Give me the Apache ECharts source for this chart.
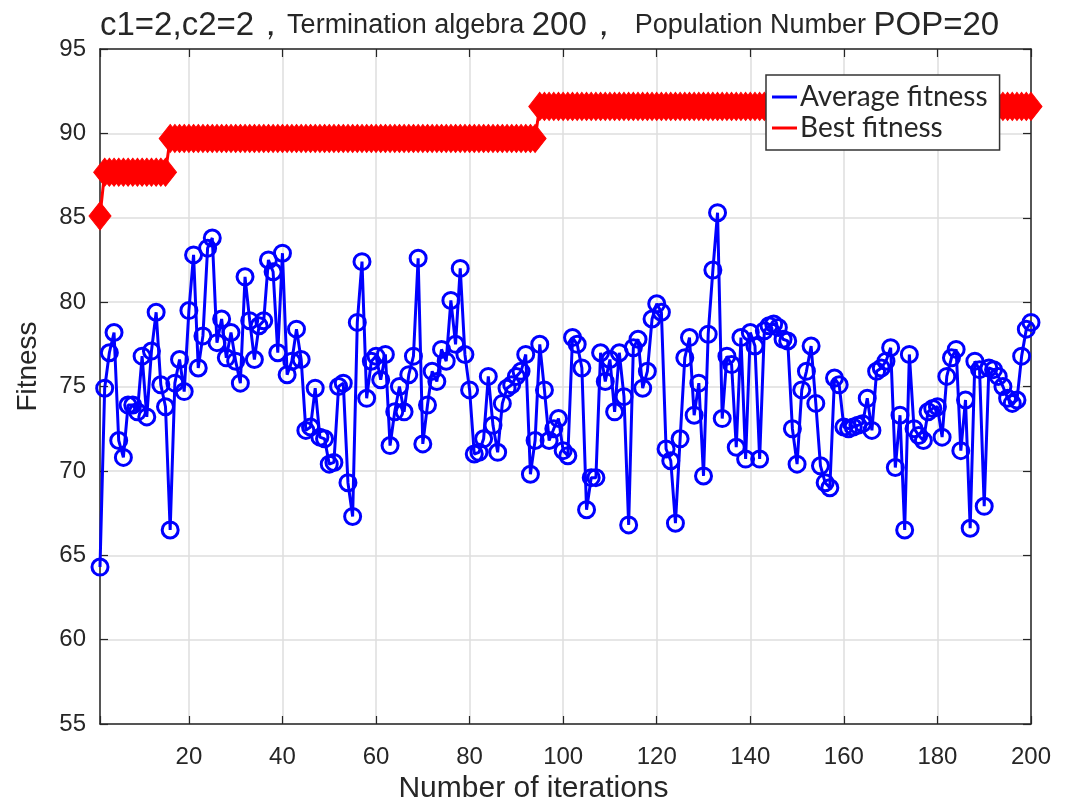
<!DOCTYPE html>
<html>
<head>
<meta charset="utf-8">
<script src="https://cdn.jsdelivr.net/npm/echarts@6/dist/echarts.min.js"></script>
<style>
  html, body { margin: 0; padding: 0; background: #ffffff; }
  #chart { width: 1071px; height: 803px; }
</style>
</head>
<body>
<div id="chart"></div>
<script>
// Average fitness of the swarm at each iteration (1..200)
const avgFitness = [
  64.3, 74.9, 77.0, 78.2, 71.8, 70.8, 73.9, 73.9, 73.5, 76.8,
  73.2, 77.1, 79.4, 75.1, 73.8, 66.5, 75.2, 76.6, 74.7, 79.5,
  82.8, 76.1, 78.0, 83.2, 83.8, 77.6, 79.0, 76.7, 78.2, 76.5,
  75.2, 81.5, 78.9, 76.6, 78.6, 78.9, 82.5, 81.8, 77.0, 82.9,
  75.7, 76.5, 78.4, 76.6, 72.4, 72.6, 74.9, 72.0, 71.9, 70.4,
  70.5, 75.0, 75.2, 69.3, 67.3, 78.8, 82.4, 74.3, 76.5, 76.8,
  75.4, 76.9, 71.5, 73.5, 75.0, 73.5, 75.7, 76.8, 82.6, 71.6,
  73.9, 75.9, 75.3, 77.2, 76.5, 80.1, 77.5, 82.0, 76.9, 74.8,
  71.0, 71.1, 71.9, 75.6, 72.7, 71.1, 74.0, 74.9, 75.1, 75.6,
  75.9, 76.9, 69.8, 71.8, 77.5, 74.8, 71.8, 72.5, 73.1, 71.2,
  70.9, 77.9, 77.5, 76.1, 67.7, 69.6, 69.6, 77.0, 75.3, 76.6,
  73.5, 77.0, 74.4, 66.8, 77.3, 77.8, 74.9, 75.9, 79.0, 79.9,
  79.4, 71.3, 70.6, 66.9, 71.9, 76.7, 77.9, 73.3, 75.2, 69.7,
  78.1, 81.9, 85.3, 73.1, 76.8, 76.3, 71.4, 77.9, 70.7, 78.2,
  77.4, 70.7, 78.3, 78.6, 78.7, 78.5, 77.8, 77.7, 72.5, 70.4,
  74.8, 75.9, 77.4, 74.0, 70.3, 69.3, 69.0, 75.5, 75.1, 72.6,
  72.5, 72.6, 72.7, 72.8, 74.3, 72.4, 75.9, 76.1, 76.5, 77.3,
  70.2, 73.3, 66.5, 76.9, 72.5, 72.1, 71.8, 73.5, 73.7, 73.8,
  72.0, 75.6, 76.7, 77.2, 71.2, 74.2, 66.6, 76.5, 76.0, 67.9,
  76.1, 76.0, 75.6, 75.0, 74.3, 74.0, 74.2, 76.8, 78.4, 78.8
];

// Best fitness found so far at each iteration (1..200)
const bestFitness = [
  85.1, 87.7, 87.7, 87.7, 87.7, 87.7, 87.7, 87.7, 87.7, 87.7,
  87.7, 87.7, 87.7, 87.7, 87.7, 89.7, 89.7, 89.7, 89.7, 89.7,
  89.7, 89.7, 89.7, 89.7, 89.7, 89.7, 89.7, 89.7, 89.7, 89.7,
  89.7, 89.7, 89.7, 89.7, 89.7, 89.7, 89.7, 89.7, 89.7, 89.7,
  89.7, 89.7, 89.7, 89.7, 89.7, 89.7, 89.7, 89.7, 89.7, 89.7,
  89.7, 89.7, 89.7, 89.7, 89.7, 89.7, 89.7, 89.7, 89.7, 89.7,
  89.7, 89.7, 89.7, 89.7, 89.7, 89.7, 89.7, 89.7, 89.7, 89.7,
  89.7, 89.7, 89.7, 89.7, 89.7, 89.7, 89.7, 89.7, 89.7, 89.7,
  89.7, 89.7, 89.7, 89.7, 89.7, 89.7, 89.7, 89.7, 89.7, 89.7,
  89.7, 89.7, 89.7, 89.7, 91.6, 91.6, 91.6, 91.6, 91.6, 91.6,
  91.6, 91.6, 91.6, 91.6, 91.6, 91.6, 91.6, 91.6, 91.6, 91.6,
  91.6, 91.6, 91.6, 91.6, 91.6, 91.6, 91.6, 91.6, 91.6, 91.6,
  91.6, 91.6, 91.6, 91.6, 91.6, 91.6, 91.6, 91.6, 91.6, 91.6,
  91.6, 91.6, 91.6, 91.6, 91.6, 91.6, 91.6, 91.6, 91.6, 91.6,
  91.6, 91.6, 91.6, 91.6, 91.6, 91.6, 91.6, 91.6, 91.6, 91.6,
  91.6, 91.6, 91.6, 91.6, 91.6, 91.6, 91.6, 91.6, 91.6, 91.6,
  91.6, 91.6, 91.6, 91.6, 91.6, 91.6, 91.6, 91.6, 91.6, 91.6,
  91.6, 91.6, 91.6, 91.6, 91.6, 91.6, 91.6, 91.6, 91.6, 91.6,
  91.6, 91.6, 91.6, 91.6, 91.6, 91.6, 91.6, 91.6, 91.6, 91.6,
  91.6, 91.6, 91.6, 91.6, 91.6, 91.6, 91.6, 91.6, 91.6, 91.6
];

const seriesNames = ['Average fitness', 'Best fitness'];
const titleParts = ['c1=2,c2=2，', 'Termination algebra ', '200，', '  Population Number ', 'POP=20'];
const xAxisName = 'Number of iterations';
const yAxisName = 'Fitness';

const sans = "'Liberation Sans', Arial, sans-serif";
const axisColor = '#262626';

// pair each value with its iteration number (1-based)
const avgData = avgFitness.map((v, i) => [i + 1, v]);
const bestData = bestFitness.map((v, i) => [i + 1, v]);

const chart = echarts.init(document.getElementById('chart'), null, { renderer: 'canvas' });

const boxAxisLine = { show: true, lineStyle: { color: axisColor, width: 1.5 } };
const boxTick = { show: true, inside: true, length: 8, lineStyle: { color: axisColor, width: 1.2 } };

chart.setOption({
  animation: false,
  backgroundColor: '#ffffff',
  title: {
    left: 95,
    top: 4,
    text: '{a|' + titleParts[0] + '}{b|' + titleParts[1] + '}{a|' + titleParts[2] + '}{b|' + titleParts[3] + '}{a|' + titleParts[4] + '}',
    textStyle: {
      fontWeight: 'normal',
      rich: {
        a: { fontFamily: sans, fontSize: 33, fontWeight: 'normal', color: '#262626' },
        b: { fontFamily: sans, fontSize: 27, fontWeight: 'normal', color: '#262626' }
      }
    }
  },
  legend: {
    orient: 'vertical',
    left: 766,
    top: 75,
    data: [
      { name: seriesNames[0], icon: 'rect', itemStyle: { color: '#0000ff', borderWidth: 0 } },
      { name: seriesNames[1], icon: 'rect', itemStyle: { color: '#ff0000', borderWidth: 0 } }
    ],
    itemWidth: 25,
    itemHeight: 3,
    itemGap: 3,
    padding: [8, 12, 8, 6],
    backgroundColor: '#ffffff',
    borderColor: '#333333',
    borderWidth: 1.5,
    textStyle: { fontFamily: 'Lato, sans-serif', fontSize: 28, color: '#262626', padding: [0, 0, 0, -2] }
  },
  grid: { left: 100, right: 40, top: 49, bottom: 79, containLabel: false, outerBoundsMode: 'none' },
  xAxis: [
    {
      type: 'value',
      min: 1,
      max: 200,
      splitNumber: 10,
      minInterval: 20,
      maxInterval: 20,
      axisLine: boxAxisLine,
      axisTick: boxTick,
      axisLabel: {
        margin: 21,
        fontFamily: sans,
        fontSize: 24,
        color: axisColor,
        formatter: v => (v === 1 ? '' : String(v))
      },
      splitLine: { show: true, lineStyle: { color: '#dedede', width: 1.5 } },
      name: xAxisName,
      nameLocation: 'middle',
      nameGap: 49,
      nameTextStyle: { fontFamily: sans, fontSize: 30, color: axisColor, padding: [0, 64, 0, 0] }
    },
    {
      type: 'value',
      position: 'top',
      min: 1,
      max: 200,
      splitNumber: 10,
      minInterval: 20,
      maxInterval: 20,
      axisLine: boxAxisLine,
      axisTick: boxTick,
      axisLabel: { show: false },
      splitLine: { show: false }
    }
  ],
  yAxis: [
    {
      type: 'value',
      min: 55,
      max: 95,
      interval: 5,
      axisLine: boxAxisLine,
      axisTick: boxTick,
      axisLabel: { margin: 14, fontFamily: sans, fontSize: 24, color: axisColor },
      splitLine: { show: true, lineStyle: { color: '#dedede', width: 1.5 } },
      name: yAxisName,
      nameLocation: 'middle',
      nameRotate: 90,
      nameGap: 58,
      nameTextStyle: { fontFamily: sans, fontSize: 28, color: axisColor, padding: [0, 0, 0, 40] }
    },
    {
      type: 'value',
      position: 'right',
      min: 55,
      max: 95,
      interval: 5,
      axisLine: boxAxisLine,
      axisTick: boxTick,
      axisLabel: { show: false },
      splitLine: { show: false }
    }
  ],
  series: [
    {
      name: seriesNames[0],
      type: 'line',
      data: avgData,
      symbol: 'circle',
      symbolSize: 16,
      showAllSymbol: true,
      itemStyle: { color: 'rgba(0,0,0,0)', borderColor: '#0000ff', borderWidth: 3 },
      lineStyle: { color: '#0000ff', width: 3 },
      z: 3
    },
    {
      name: seriesNames[1],
      type: 'line',
      data: bestData,
      symbol: 'diamond',
      symbolSize: [22, 28],
      showAllSymbol: true,
      itemStyle: { color: '#ff0000', borderColor: '#ff0000', borderWidth: 1 },
      lineStyle: { color: '#ff0000', width: 3 },
      z: 2
    }
  ]
});
</script>
</body>
</html>
